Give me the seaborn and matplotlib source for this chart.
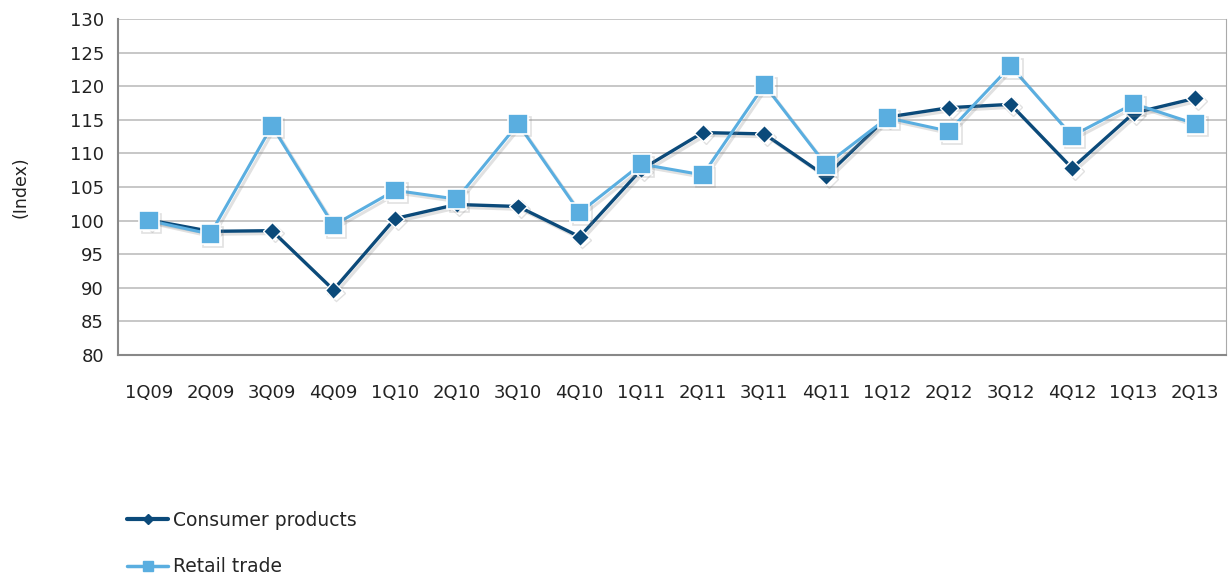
import matplotlib
matplotlib.use("Agg")
import matplotlib.pyplot as plt
import matplotlib.patheffects as pe
from matplotlib.lines import Line2D
import seaborn as sns
import pandas as pd

quarters = ["1Q09", "2Q09", "3Q09", "4Q09", "1Q10", "2Q10", "3Q10", "4Q10", "1Q11",
            "2Q11", "3Q11", "4Q11", "1Q12", "2Q12", "3Q12", "4Q12", "1Q13", "2Q13"]
consumer_products = [100.1, 98.4, 98.5, 89.7, 100.3, 102.4, 102.1, 97.6, 107.6,
                     113.1, 112.9, 106.6, 115.4, 116.8, 117.3, 107.8, 116.0, 118.2]
retail_trade = [100.0, 98.0, 114.1, 99.3, 104.5, 103.2, 114.4, 101.2, 108.4,
                106.8, 120.2, 108.3, 115.3, 113.3, 123.0, 112.6, 117.4, 114.4]
series_names = ["Consumer products", "Retail trade"]
y_ticks = list(range(80, 131, 5))

df = pd.concat([
    pd.DataFrame({"quarter": quarters, "value": consumer_products, "series": series_names[0]}),
    pd.DataFrame({"quarter": quarters, "value": retail_trade, "series": series_names[1]}),
])

sns.set_style("white")
plt.rcParams["font.family"] = ["DejaVu Sans"]

dark = "#0b4a7a"
light = "#5aaee0"
grid_c = "#bdbdbd"
txt = "#222222"

fig = plt.figure(figsize=(12.28, 5.8), dpi=100)
ax = fig.add_axes([118 / 1228, 1 - 355 / 580, (1226 - 118) / 1228, (355 - 19) / 580])

sns.lineplot(data=df, x="quarter", y="value", hue="series", style="series",
             palette={series_names[0]: dark, series_names[1]: light},
             markers={series_names[0]: "D", series_names[1]: "s"},
             dashes=False, sort=False, ax=ax, legend=False)

lines = ax.get_lines()
lines[0].set_linewidth(2.4)
lines[0].set_markersize(9)
lines[0].set_markeredgecolor("white")
lines[0].set_markeredgewidth(1.0)
lines[0].set_zorder(3)
lines[1].set_linewidth(2.2)
lines[1].set_markersize(14)
lines[1].set_markeredgecolor("white")
lines[1].set_markeredgewidth(1.2)
lines[1].set_zorder(4)
for ln in lines:
    ln.set_path_effects([pe.SimpleLineShadow(offset=(2, -2), shadow_color="#888888", alpha=0.25), pe.Normal()])

ax.set_xlim(-0.5, len(quarters) - 0.5)
ax.set_ylim(80, 130)
ax.set_yticks(y_ticks)
ax.set_yticklabels([str(t) for t in y_ticks], fontsize=13, color=txt)
ax.set_xticks(range(len(quarters)))
ax.set_xticklabels(quarters, fontsize=13, color=txt)
ax.tick_params(axis="x", length=0, pad=21)
ax.set_xticks([i - 0.5 for i in range(len(quarters) + 1)], minor=True)
ax.tick_params(axis="x", which="minor", length=6, width=1.2, color="#777777", direction="out")
ax.tick_params(axis="y", length=6, width=1.2, color="#777777", direction="out", pad=4)
ax.set_xlabel("")
ax.set_ylabel("(Index)", fontsize=12.5, color=txt, labelpad=29)

ax.yaxis.grid(True, color=grid_c, linewidth=1.2)
ax.set_axisbelow(True)
ax.spines["top"].set_visible(False)
ax.spines["right"].set_color("#aaaaaa")
ax.spines["left"].set_color("#888888")
ax.spines["bottom"].set_color("#888888")
ax.spines["left"].set_linewidth(1.5)
ax.spines["bottom"].set_linewidth(1.5)

handles = [
    Line2D([], [], color=dark, lw=3, marker="D", markersize=5, markeredgecolor=dark),
    Line2D([], [], color=light, lw=2.5, marker="s", markersize=7, markeredgecolor=light),
]
fig.legend(handles, series_names, loc="upper left", bbox_to_anchor=(127 / 1228, 1 - 511 / 580),
           frameon=False, fontsize=13.5, handlelength=2.2, handletextpad=0.25,
           labelspacing=1.45, borderaxespad=0, borderpad=0)

fig.savefig("out.png", dpi=100)
